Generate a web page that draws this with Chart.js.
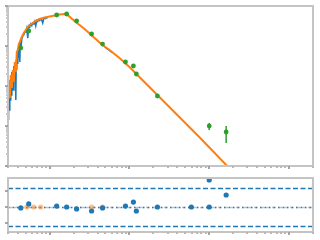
<!DOCTYPE html>
<html><head><meta charset="utf-8">
<script src="https://cdn.jsdelivr.net/npm/chart.js@4/dist/chart.umd.min.js"></script>
<style>
html,body{margin:0;padding:0;background:#fff;width:320px;height:240px;overflow:hidden}
canvas{position:absolute;left:0}
#main{top:0}
#resid{top:172px}
</style></head><body>
<canvas id="main" width="320" height="172"></canvas>
<canvas id="resid" width="320" height="68"></canvas>
<script>
// Wavelength in micron, normalised lambda*F_lambda
const specWave = [0.2985,0.301,0.303,0.307,0.312,0.316,0.321,0.325,0.330,0.335,0.340,0.344,0.350,0.355,0.360,0.365,0.371,0.376,0.381,0.386,0.393,0.398,0.404,0.409,0.416,0.422,0.428,0.434,0.447,0.459,0.473,0.486,0.501,0.515,0.531,0.546,0.562,0.578,0.596,0.612,0.631,0.649,0.668,0.687,0.708,0.728,0.750,0.771,0.794,0.817,0.841,0.865,0.891,0.916,0.944];
const specFlux = [0.000794,0.00447,0.00141,0.00708,0.00251,0.0106,0.00447,0.0158,0.00596,0.0224,0.00891,0.0251,0.00794,0.0316,0.0141,0.0398,0.0188,0.00447,0.0447,0.0251,0.0708,0.0355,0.0891,0.0501,0.112,0.0398,0.126,0.0794,0.1496,0.178,0.188,0.224,0.224,0.274,0.158,0.316,0.2985,0.355,0.325,0.376,0.355,0.410,0.316,0.434,0.410,0.460,0.434,0.473,0.447,0.376,0.473,0.501,0.487,0.516,0.501];
const irsWave = [4.87,5.158,5.464,5.788,6.13];
const irsFlux = [0.0972,0.0866,0.0818,0.0729,0.0688];
const modelWave = [0.2985,0.3073,0.3162,0.3255,0.335,0.3447,0.3548,0.3652,0.3758,0.3868,0.398,0.4097,0.4217,0.4467,0.4732,0.501,0.531,0.562,0.613,0.668,0.750,0.866,1.0,1.155,1.334,1.54,1.679,1.884,2.113,2.371,2.738,3.162,3.652,4.217,4.87,5.623,7.499,10,17.78,31.62,74.99,167.9,421.7];
const modelFlux = [0.00596,0.0141,0.00501,0.0188,0.00891,0.0251,0.0126,0.0398,0.0224,0.0708,0.0794,0.112,0.126,0.168,0.211,0.251,0.2985,0.335,0.376,0.422,0.473,0.516,0.546,0.579,0.613,0.631,0.596,0.487,0.398,0.335,0.266,0.2054,0.1585,0.1223,0.0972,0.0794,0.0501,0.02985,0.00944,0.002985,0.000531,0.0001,0.00001585];
const photWave = [0.434,0.546,1.223,1.631,2.175,3.35,4.6,8.91,11.2,12.2,22.4,59.6,100,100,163];
const photFlux = [0.0891,0.237,0.596,0.631,0.422,0.1995,0.112,0.0398,0.0316,0.01995,0.00562,0.000841,0.000299,0.001,0.000708];
const photInMain = [1,1,1,1,1,1,1,1,1,1,1,0,0,1,1];
const photErrLo = [null,null,null,null,null,null,null,null,null,null,null,null,null,0.000794,0.000376];
const photErrHi = [null,null,null,null,null,null,null,null,null,null,null,null,null,0.00119,0.001];
const residVal = [-0.06,0.19,0.06,0,-0.12,-0.25,-0.06,0.06,0.31,-0.25,0,0,0,1.69,0.75];
const synthWave = [0.516,0.631,0.772,3.35,4.6];
const synthResid = [0,0,0,0,0];
const residLevels = [-1.2, 0, 1.2];
const residTicks = [-1, 0, 1];
const xRange = [0.3, 2000];
const yRange = [1e-4, 1];
const residRange = [-1.5625, 1.8125];

const pts = (xs, ys) => xs.map((x, i) => ({x, y: ys[i]}));

function logTicks(lo, hi) {
  const out = [];
  for (let e = Math.floor(Math.log10(lo)); e <= Math.ceil(Math.log10(hi)); e++)
    for (let k = 1; k <= 9; k++) {
      const v = k * Math.pow(10, e);
      if (v >= lo * 0.999 && v <= hi * 1.001) out.push({v, major: k === 1});
    }
  return out;
}

function frameAndTicks(chart, yTicks) {
  const {ctx, chartArea: a, scales} = chart;
  ctx.save();
  ctx.strokeStyle = '#c4c4c4';
  ctx.lineWidth = 2;
  ctx.strokeRect(a.left, a.top, a.right - a.left, a.bottom - a.top);
  for (const t of logTicks(xRange[0], xRange[1])) {
    const px = Math.round(scales.x.getPixelForValue(t.v));
    ctx.fillStyle = t.major ? '#a4a4a4' : '#b8b8b8';
    ctx.fillRect(px - 1, a.bottom, 2, t.major ? 3 : 2);
  }
  for (const t of yTicks) {
    const py = Math.round(scales.y.getPixelForValue(t.v));
    ctx.fillStyle = t.major ? '#a4a4a4' : '#c8c8c8';
    ctx.fillRect(a.left - (t.major ? 3 : 2), py - 1, t.major ? 3 : 2, 2);
  }
  ctx.restore();
}

const mainPlugin = {
  id: 'mainDeco',
  beforeDatasetsDraw(chart) {
    const {ctx, scales} = chart;
    ctx.save();
    ctx.strokeStyle = '#2ca02c';
    ctx.lineWidth = 1.5;
    photWave.forEach((w, i) => {
      if (photErrLo[i] == null || !photInMain[i]) return;
      const x = scales.x.getPixelForValue(w);
      ctx.beginPath();
      ctx.moveTo(x, scales.y.getPixelForValue(photErrLo[i]));
      ctx.lineTo(x, scales.y.getPixelForValue(photErrHi[i]));
      ctx.stroke();
    });
    ctx.restore();
  },
  afterDraw(chart) { frameAndTicks(chart, logTicks(yRange[0], yRange[1])); }
};

const residPlugin = {
  id: 'residDeco',
  beforeDatasetsDraw(chart) {
    const {ctx, chartArea: a, scales} = chart;
    ctx.save();
    residLevels.forEach(v => {
      const py = Math.round(scales.y.getPixelForValue(v)) + 0.5;
      if (v === 0) {
        ctx.strokeStyle = '#a9c9e4'; ctx.lineWidth = 1.5; ctx.setLineDash([4, 2]);
        ctx.beginPath(); ctx.moveTo(a.left, py); ctx.lineTo(a.right, py); ctx.stroke();
        ctx.strokeStyle = '#5f6f80'; ctx.lineWidth = 1.5; ctx.setLineDash([1.5, 3]);
        ctx.beginPath(); ctx.moveTo(a.left, py); ctx.lineTo(a.right, py); ctx.stroke();
      } else {
        ctx.strokeStyle = '#1f77b4'; ctx.lineWidth = 1.5; ctx.setLineDash([5, 2.5]);
        ctx.beginPath(); ctx.moveTo(a.left, py); ctx.lineTo(a.right, py); ctx.stroke();
      }
    });
    ctx.restore();
  },
  afterDraw(chart) { frameAndTicks(chart, residTicks.map(v => ({v, major: true}))); }
};

const xScale = {type: 'logarithmic', min: xRange[0], max: xRange[1], display: false};
const mainPhot = pts(photWave, photFlux).filter((p, i) => photInMain[i]);

new Chart(document.getElementById('main'), {
  type: 'scatter',
  data: {datasets: [
    {data: mainPhot, backgroundColor: '#2ca02c', borderColor: '#2ca02c', pointRadius: 2.4, borderWidth: 0, order: 0, clip: false},
    {data: pts(modelWave, modelFlux), showLine: true, borderColor: '#ff7f0e', borderWidth: 2, pointRadius: 0, order: 1},
    {data: pts(specWave, specFlux), showLine: true, borderColor: '#1f77b4', borderWidth: 1.5, pointRadius: 0, order: 2},
    {data: pts(irsWave, irsFlux), showLine: true, borderColor: '#1f77b4', borderWidth: 1.5, pointRadius: 0, order: 2}
  ]},
  options: {
    responsive: false, animation: false, devicePixelRatio: 1,
    layout: {padding: {left: 8, right: 7, top: 6, bottom: 6}},
    plugins: {legend: {display: false}, tooltip: {enabled: false}},
    scales: {x: xScale, y: {type: 'logarithmic', min: yRange[0], max: yRange[1], display: false}}
  },
  plugins: [mainPlugin]
});

new Chart(document.getElementById('resid'), {
  type: 'scatter',
  data: {datasets: [
    {data: pts(photWave, residVal), backgroundColor: '#1f77b4', pointRadius: 2.6, borderWidth: 0, order: 0, clip: false},
    {data: pts(synthWave, synthResid), backgroundColor: 'rgba(255,127,14,0.5)', pointRadius: 2.6, borderWidth: 0, order: 1, clip: false}
  ]},
  options: {
    responsive: false, animation: false, devicePixelRatio: 1,
    layout: {padding: {left: 8, right: 7, top: 6, bottom: 8}},
    plugins: {legend: {display: false}, tooltip: {enabled: false}},
    scales: {x: {...xScale}, y: {type: 'linear', min: residRange[0], max: residRange[1], display: false}}
  },
  plugins: [residPlugin]
});
</script>
</body></html>
